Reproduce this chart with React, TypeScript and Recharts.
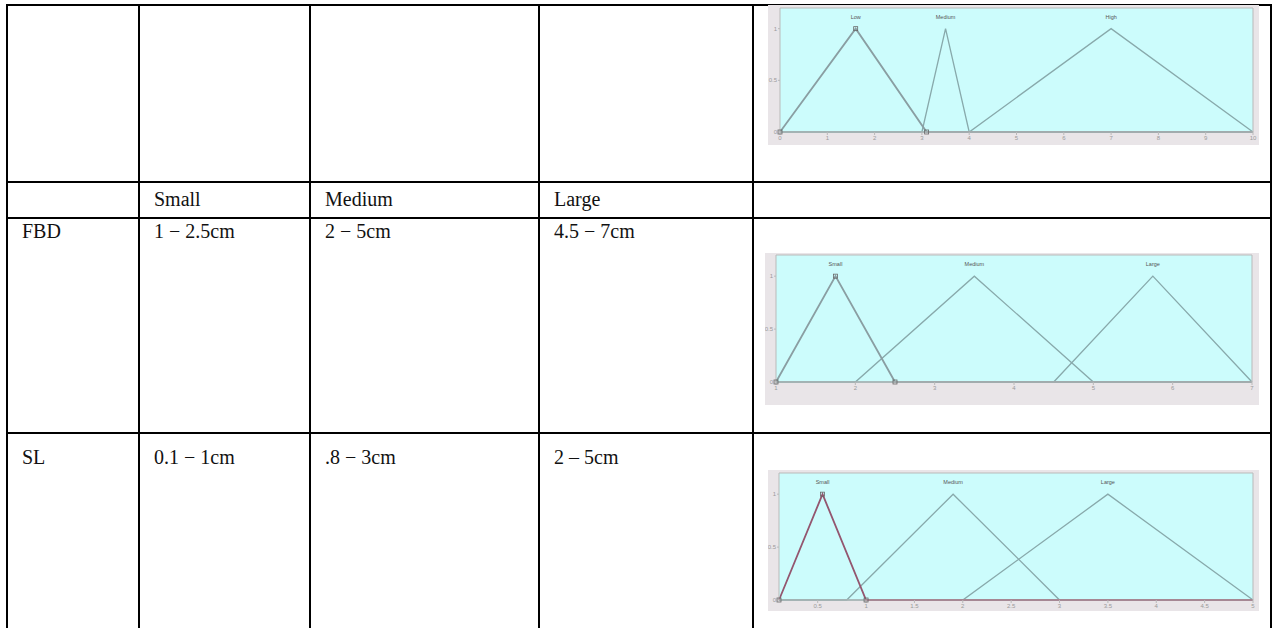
import React from 'react';
import { LineChart, Line, XAxis, YAxis, CartesianGrid } from 'recharts';

// table text
const headerRow = ['', 'Small', 'Medium', 'Large'];
const fbdRow = ['FBD', '1 − 2.5cm', '2 − 5cm', '4.5 − 7cm'];
const slRow = ['SL', '0.1 − 1cm', '.8 − 3cm', '2 – 5cm'];

// membership plot in the first row
const topRange = [0, 10];
const topTicks = [0, 1, 2, 3, 4, 5, 6, 7, 8, 9, 10];
const topNames = ['Low', 'Medium', 'High'];
const topLow = [0, 1.6, 3.1];
const topMedium = [3, 3.5, 4];
const topHigh = [4, 7, 10];

// FBD membership functions
const fbdRange = [1, 7];
const fbdTicks = [1, 2, 3, 4, 5, 6, 7];
const fbdNames = ['Small', 'Medium', 'Large'];
const fbdSmall = [1, 1.75, 2.5];
const fbdMedium = [2, 3.5, 5];
const fbdLarge = [4.5, 5.75, 7];

// SL membership functions
const slRange = [0.1, 5];
const slTicks = [0.5, 1, 1.5, 2, 2.5, 3, 3.5, 4, 4.5, 5];
const slNames = ['Small', 'Medium', 'Large'];
const slSmall = [0.1, 0.55, 1];
const slMedium = [0.8, 1.9, 3];
const slLarge = [2, 3.5, 5];

const yTicks = [0, 0.5, 1];

const colX = [7, 139, 310, 539, 753, 1271];
const rowY = [5, 182, 218, 433];

type Pt = { x: number; y: number; v?: boolean; peak?: boolean };

const toPoints = (tri: number[], range: number[]): Pt[] => {
  const pts: Pt[] = [];
  if (range[0] < tri[0]) pts.push({ x: range[0], y: 0 });
  pts.push({ x: tri[0], y: 0, v: true });
  pts.push({ x: tri[1], y: 1, v: true, peak: true });
  pts.push({ x: tri[2], y: 0, v: true });
  if (tri[2] < range[1]) pts.push({ x: range[1], y: 0 });
  return pts;
};

const makeDot = (name: string, handles: boolean) => (p: any) => {
  const { cx, cy, payload, index } = p;
  const key = `dot-${name}-${index}`;
  if (cx == null || cy == null) return <g key={key} />;
  return (
    <g key={key}>
      {payload.peak && (
        <text x={cx} y={cy - 10} textAnchor="middle" fontSize={5.5} fill="#555" fontFamily="Arial, sans-serif">
          {name}
        </text>
      )}
      {handles && payload.v && (
        <rect x={cx - 2} y={cy - 2} width={4} height={4} fill="none" stroke="#666" strokeWidth={0.8} />
      )}
    </g>
  );
};

type PlotProps = {
  left: number;
  top: number;
  width: number;
  height: number;
  range: number[];
  ticks: number[];
  names: string[];
  sets: number[][];
  pad: { left: number; right: number; top: number; bottom: number };
  firstColor: string;
};

const tickStyle = { fontSize: 6, fill: '#9a9a9a', fontFamily: 'Arial, sans-serif' };

const MfPlot: React.FC<PlotProps> = ({ left, top, width, height, range, ticks, names, sets, pad, firstColor }) => (
  <div style={{ position: 'absolute', left, top, width, height, background: '#e9e5e8' }}>
    <LineChart width={width} height={height} margin={{ top: 0, right: 0, left: 0, bottom: 0 }}>
      <CartesianGrid fill="#ccfcfc" horizontal={false} vertical={false} />
      <XAxis
        dataKey="x"
        type="number"
        domain={range}
        ticks={ticks}
        interval={0}
        height={pad.bottom}
        tickSize={3}
        tickMargin={1}
        tick={tickStyle}
        axisLine={{ stroke: '#b9b9b9' }}
        tickLine={{ stroke: '#b9b9b9' }}
      />
      <XAxis
        xAxisId="top"
        orientation="top"
        dataKey="x"
        type="number"
        domain={range}
        ticks={ticks}
        interval={0}
        height={pad.top}
        tickSize={2}
        tickFormatter={() => ''}
        axisLine={{ stroke: '#b9b9b9' }}
        tickLine={{ stroke: '#b9b9b9' }}
      />
      <YAxis
        type="number"
        domain={[0, 1.2]}
        ticks={yTicks}
        width={pad.left}
        tickSize={2}
        tickMargin={1}
        tick={tickStyle}
        axisLine={{ stroke: '#b9b9b9' }}
        tickLine={{ stroke: '#b9b9b9' }}
      />
      <YAxis
        yAxisId="right"
        orientation="right"
        type="number"
        domain={[0, 1.2]}
        ticks={yTicks}
        width={pad.right}
        tickSize={2}
        tickFormatter={() => ''}
        axisLine={{ stroke: '#b9b9b9' }}
        tickLine={{ stroke: '#b9b9b9' }}
      />
      {sets.slice(1).map((tri, i) => (
        <Line
          key={names[i + 1]}
          type="linear"
          data={toPoints(tri, range)}
          dataKey="y"
          stroke="#88a9ab"
          strokeWidth={1.3}
          dot={makeDot(names[i + 1], false)}
          activeDot={false}
          isAnimationActive={false}
        />
      ))}
      <Line
        key={names[0]}
        type="linear"
        data={toPoints(sets[0], range)}
        dataKey="y"
        stroke={firstColor}
        strokeWidth={1.8}
        dot={makeDot(names[0], true)}
        activeDot={false}
        isAnimationActive={false}
      />
    </LineChart>
  </div>
);

const Cell: React.FC<{ x: number; y: number; text: string }> = ({ x, y, text }) => (
  <div
    style={{
      position: 'absolute',
      left: x,
      top: y,
      fontFamily: "'Liberation Serif', serif",
      fontSize: 20,
      lineHeight: '20px',
      color: '#111',
      whiteSpace: 'nowrap',
    }}
  >
    {text}
  </div>
);

export default function App() {
  return (
    <div
      style={{
        position: 'absolute',
        left: 0,
        top: 0,
        width: 1277,
        height: 628,
        background: '#fff',
        overflow: 'hidden',
      }}
    >
      {colX.map((x) => (
        <div key={`v${x}`} style={{ position: 'absolute', left: x - 1, top: rowY[0] - 1, width: 2, height: 640, background: '#000' }} />
      ))}
      {rowY.map((y) => (
        <div key={`h${y}`} style={{ position: 'absolute', left: colX[0] - 1, top: y - 1, width: colX[5] - colX[0] + 2, height: 2, background: '#000' }} />
      ))}

      {headerRow.map((t, i) => (t ? <Cell key={`hd${i}`} x={colX[i] + 15} y={189} text={t} /> : null))}
      {fbdRow.map((t, i) => (
        <Cell key={`fb${i}`} x={colX[i] + 15} y={221} text={t} />
      ))}
      {slRow.map((t, i) => (
        <Cell key={`sl${i}`} x={colX[i] + 15} y={447} text={t} />
      ))}

      <MfPlot
        left={768}
        top={5}
        width={491}
        height={140}
        range={topRange}
        ticks={topTicks}
        names={topNames}
        sets={[topLow, topMedium, topHigh]}
        pad={{ left: 12, right: 6, top: 3, bottom: 13 }}
        firstColor="#8a9ea2"
      />
      <MfPlot
        left={765}
        top={253}
        width={494}
        height={152}
        range={fbdRange}
        ticks={fbdTicks}
        names={fbdNames}
        sets={[fbdSmall, fbdMedium, fbdLarge]}
        pad={{ left: 11, right: 7, top: 2, bottom: 23 }}
        firstColor="#8a9ea2"
      />
      <MfPlot
        left={768}
        top={470}
        width={491}
        height={141}
        range={slRange}
        ticks={slTicks}
        names={slNames}
        sets={[slSmall, slMedium, slLarge]}
        pad={{ left: 11, right: 6, top: 3, bottom: 11 }}
        firstColor="#93566f"
      />
    </div>
  );
}
